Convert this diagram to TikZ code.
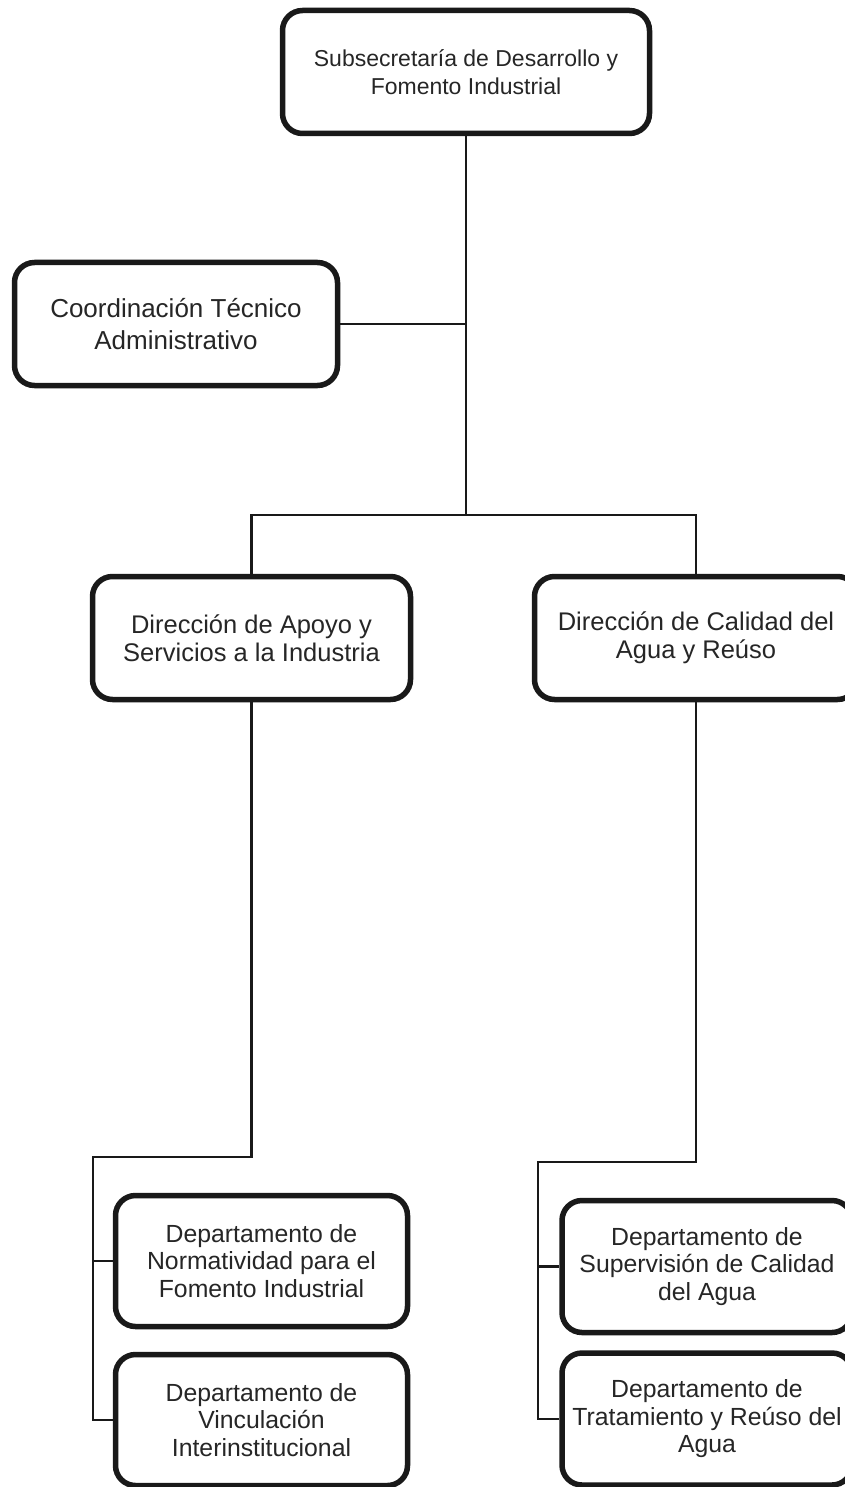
\documentclass[tikz,border=0pt]{standalone}
\usepackage{fontspec}
\setmainfont{Liberation Sans}
\begin{document}
\begin{tikzpicture}[x=1pt,y=-1pt,
  orgbox/.style={draw=black!90, line width=5.5pt, rounded corners=20pt, fill=white,
    align=center, inner sep=0pt, text=black!85},
  fsTop/.style={font=\fontsize{23}{27.5}\selectfont},
  fsCoord/.style={font=\fontsize{26}{32}\selectfont},
  fsDir/.style={font=\fontsize{25.5}{27.5}\selectfont},
  fsDep/.style={font=\fontsize{24.8}{27.5}\selectfont},
  link/.style={draw=black!90, line width=2.6pt}]
\useasboundingbox (0,0) rectangle (845,1487);
\fill[white] (0,0) rectangle (845,1487);

\node[orgbox, fsTop, minimum width=367pt, minimum height=123pt] (top) at (466,72)
  {Subsecretaría de Desarrollo y\\Fomento Industrial};
\node[orgbox, fsCoord, minimum width=323pt, minimum height=123pt] (coord) at (176,324)
  {Coordinación Técnico\\Administrativo};
\node[orgbox, fsDir, minimum width=318pt, minimum height=123pt] (dirA) at (251.5,638)
  {Dirección de Apoyo y\\Servicios a la Industria};
\node[orgbox, fsDir, minimum width=323pt, minimum height=123pt] (dirC) at (696,638)
  {Dirección de Calidad del\\Agua y Reúso};
\node[orgbox, fsDep, minimum width=292pt, minimum height=131pt] (dep1) at (261.5,1261)
  {Departamento de\\Normatividad para el\\Fomento Industrial};
\node[orgbox, fsDep, minimum width=292pt, minimum height=131pt] (dep2) at (261.5,1420)
  {Departamento de\\Vinculación\\Interinstitucional};
\node[orgbox, fsDep, minimum width=290pt, minimum height=132pt] (dep3) at (707,1266.5)
  {Departamento de\\Supervisión de Calidad\\del Agua};
\node[orgbox, fsDep, minimum width=290pt, minimum height=132pt] (dep4) at (707,1419)
  {Departamento de\\Tratamiento y Reúso del\\Agua};

\coordinate (bar) at (466,515);
\coordinate (lA) at (93,1157);
\coordinate (lC) at (538,1162);

\draw[link] (top.south) -- (bar);
\draw[link] (coord.east) -- (coord.east -| top.south);
\draw[link] (dirA.north) |- (bar) -| (dirC.north);
\draw[link] (dirA.south) |- (lA) |- (dep2.west);
\draw[link] (lA) |- (dep1.west);
\draw[link] (dirC.south) |- (lC) |- (dep4.west);
\draw[link] (lC) |- (dep3.west);
\end{tikzpicture}
\end{document}
